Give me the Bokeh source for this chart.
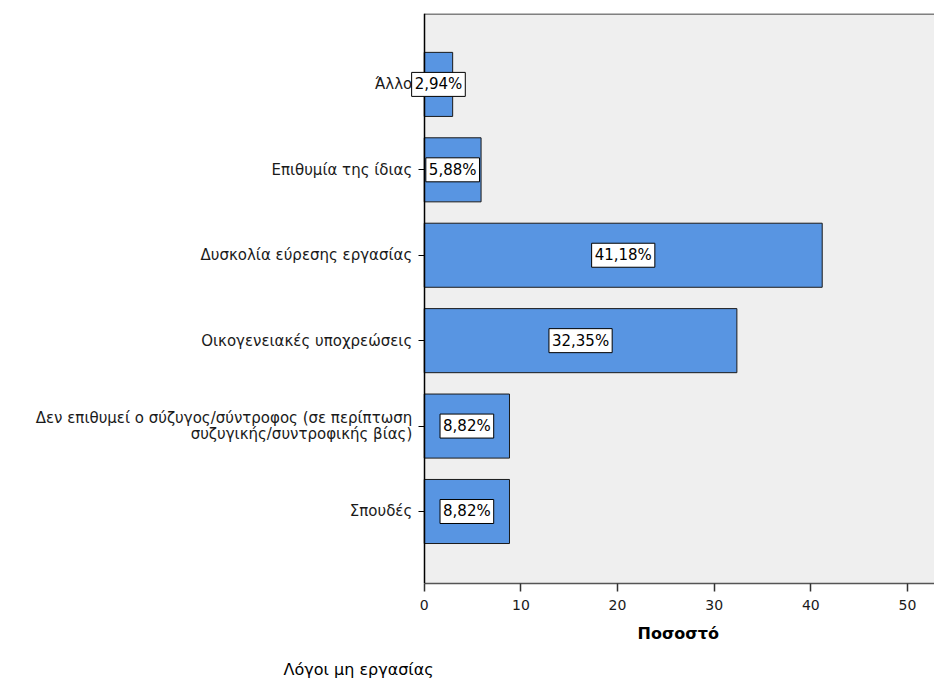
from bokeh.plotting import figure
from bokeh.models import Range1d, FixedTicker, ColumnDataSource, Title, Label, BoxAnnotation
from bokeh.embed import file_html
from bokeh.resources import INLINE

categories = [
    "Άλλο",
    "Επιθυμία της ίδιας",
    "Δυσκολία εύρεσης εργασίας",
    "Οικογενειακές υποχρεώσεις",
    "Δεν επιθυμεί ο σύζυγος/σύντροφος (σε περίπτωση\nσυζυγικής/συντροφικής βίας)",
    "Σπουδές",
]
values = [2.94, 5.88, 41.18, 32.35, 8.82, 8.82]
value_labels = ["2,94%", "5,88%", "41,18%", "32,35%", "8,82%", "8,82%"]
x_ticks = [0, 10, 20, 30, 40, 50]

n = len(categories)
positions = [n - i for i in range(n)]

src = ColumnDataSource(dict(pos=positions, val=values))

FONT = "DejaVu Sans"

X_START, X_END = -43.85, 52.8
Y_START, Y_END = 0.157, 6.83

p = figure(width=934, height=686, output_backend="svg", toolbar_location=None,
           x_range=Range1d(X_START, X_END), y_range=Range1d(Y_START, Y_END),
           min_border_left=0, min_border_right=0, min_border_top=13,
           min_border_bottom=103)
p.background_fill_color = "white"
p.border_fill_color = "white"
p.outline_line_color = None
p.grid.visible = False

# grey plot area starting at x = 0
p.add_layout(BoxAnnotation(left=0, fill_color="#efefef", fill_alpha=1.0,
                           line_color=None, level="underlay"))
# top border of the plot area
p.segment(x0=[0], y0=[Y_END], x1=[X_END], y1=[Y_END], line_color="#808080", line_width=3)

p.hbar(y="pos", right="val", left=0, height=0.75, source=src,
       fill_color="#5895e2", line_color="#1a1a1a", line_width=1)

# value labels
for pos, val, lab in zip(positions, values, value_labels):
    p.add_layout(Label(x=val / 2, y=pos, text=lab,
                       text_align="center", text_baseline="middle",
                       text_font=FONT, text_font_size="15px", text_color="black",
                       background_fill_color="white", border_line_color="black",
                       border_line_width=1, padding=3))

# y axis, fixed at x = 0
p.yaxis.fixed_location = 0
p.yaxis.ticker = FixedTicker(ticks=positions)
p.yaxis.major_label_overrides = {pos: cat for pos, cat in zip(positions, categories)}
p.yaxis.major_label_text_font = FONT
p.yaxis.major_label_text_font_size = "15px"
p.yaxis.major_label_text_color = "#1a1a1a"
p.yaxis.major_label_text_line_height = 0.9
p.yaxis.major_tick_out = 6
p.yaxis.major_tick_in = 0
p.yaxis.minor_tick_line_color = None
p.yaxis.major_label_standoff = 6
p.yaxis.axis_line_color = "black"
p.yaxis.axis_line_width = 1.5

# x axis
p.xaxis.bounds = (0, X_END)
p.xaxis.ticker = FixedTicker(ticks=x_ticks)
p.xaxis.major_label_text_font = FONT
p.xaxis.major_label_text_font_size = "14px"
p.xaxis.major_label_text_color = "#1a1a1a"
p.xaxis.major_label_standoff = 8
p.xaxis.major_tick_out = 8
p.xaxis.major_tick_in = 0
p.xaxis.minor_tick_line_color = None
p.xaxis.axis_line_color = "#555555"
p.xaxis.axis_line_width = 1.5
p.xaxis.major_tick_line_color = "#333333"
p.xaxis.major_tick_line_width = 1.5

# x axis title, centred under the grey plot area
x_title = Title(text="Ποσοστό", align="left", offset=637, standoff=19,
                text_font=FONT, text_font_size="16px", text_font_style="bold",
                text_color="black")
p.add_layout(x_title, "below")

title = Title(text="Λόγοι μη εργασίας", align="left", offset=283, standoff=11,
              text_font=FONT, text_font_size="16px", text_font_style="normal",
              text_color="black")
p.add_layout(title, "below")

open("out.html", "w").write(file_html(p, INLINE))
